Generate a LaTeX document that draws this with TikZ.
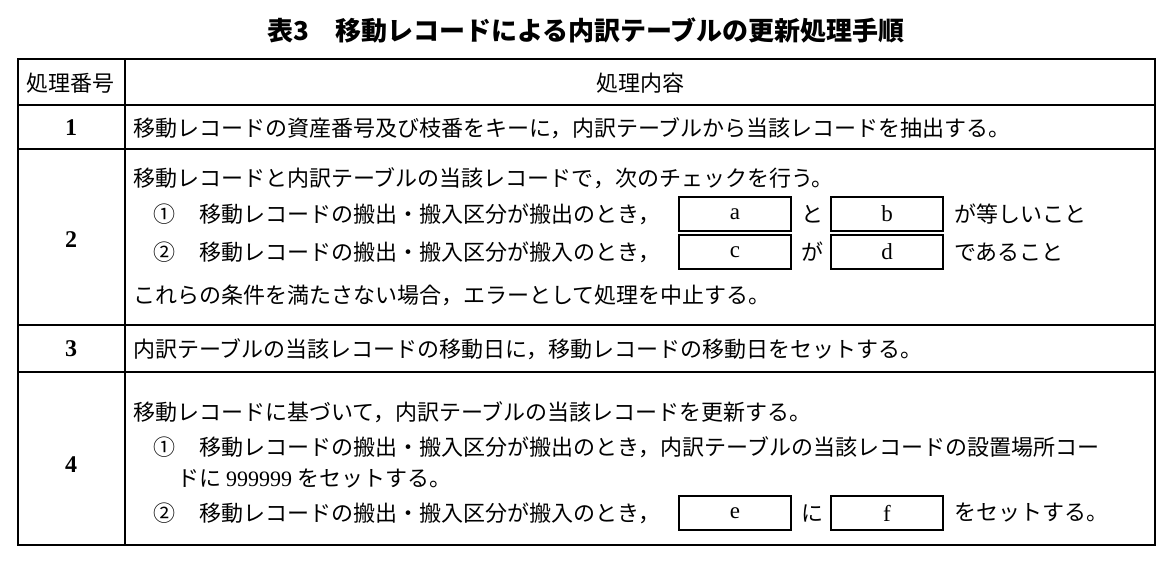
\documentclass[tikz,border=0pt]{standalone}
\usepackage{fontspec}
\setmainfont{Noto Sans CJK JP}
\newfontfamily\numfont{Liberation Serif}
\begin{document}
\begin{tikzpicture}[x=1pt,y=-1pt,
  txt/.style={anchor=west,inner sep=0pt,font=\fontsize{22}{26}\selectfont},
  num/.style={inner sep=0pt,font=\fontsize{24}{26}\selectfont\numfont\bfseries},
  hd/.style={inner sep=0pt,font=\fontsize{22}{26}\selectfont},
  blank/.style={draw,line width=2pt,minimum width=112pt,minimum height=34pt,inner sep=0pt,font=\fontsize{23}{26}\selectfont\numfont},
  rule/.style={line width=1.2pt}]
\useasboundingbox (0,0) rectangle (1172,563);
\node[inner sep=0pt,font=\fontsize{26}{30}\selectfont\bfseries] (title) at (586,30) {表3\quad 移動レコードによる内訳テーブルの更新処理手順};
% grid
\draw[line width=1.6pt] (18,59) rectangle (1155,545);
\draw[rule] (18,105) -- (1155,105);
\draw[rule] (18,149) -- (1155,149);
\draw[rule] (18,325) -- (1155,325);
\draw[rule] (18,372) -- (1155,372);
\draw[rule] (125,59) -- (125,545);
% header
\node[hd] (h1) at (71,83) {処理番号};
\node[hd] (h2) at (640,83) {処理内容};
% row 1
\node[num] (n1) at (71,128) {1};
\node[txt] (r1) at (133,128) {移動レコードの資産番号及び枝番をキーに，内訳テーブルから当該レコードを抽出する。};
% row 2
\node[num] (n2) at (71,240) {2};
\node[txt] (r2a) at (133,178) {移動レコードと内訳テーブルの当該レコードで，次のチェックを行う。};
\node[txt] (r2b) at (153,214) {①\hspace{1.1em}移動レコードの搬出・搬入区分が搬出のとき，};
\node[blank] (ba) at (735,214) {a};
\node[txt] (r2b2) at (801,214) {と};
\node[blank] (bb) at (887,214) {b};
\node[txt] (r2b3) at (954,214) {が等しいこと};
\node[txt] (r2c) at (153,252) {②\hspace{1.1em}移動レコードの搬出・搬入区分が搬入のとき，};
\node[blank] (bc) at (735,252) {c};
\node[txt] (r2c2) at (801,252) {が};
\node[blank] (bd) at (887,252) {d};
\node[txt] (r2c3) at (954,252) {であること};
\node[txt] (r2d) at (133,295) {これらの条件を満たさない場合，エラーとして処理を中止する。};
% row 3
\node[num] (n3) at (71,349) {3};
\node[txt] (r3) at (133,349) {内訳テーブルの当該レコードの移動日に，移動レコードの移動日をセットする。};
% row 4
\node[num] (n4) at (71,465) {4};
\node[txt] (r4a) at (133,412) {移動レコードに基づいて，内訳テーブルの当該レコードを更新する。};
\node[txt] (r4b) at (153,447) {①\hspace{1.1em}移動レコードの搬出・搬入区分が搬出のとき，内訳テーブルの当該レコードの設置場所コー};
\node[txt] (r4c) at (177,479) {ドに {\numfont 999999} をセットする。};
\node[txt] (r4d) at (153,513) {②\hspace{1.1em}移動レコードの搬出・搬入区分が搬入のとき，};
\node[blank] (be) at (735,513) {e};
\node[txt] (r4d2) at (801,513) {に};
\node[blank] (bf) at (887,513) {f};
\node[txt] (r4d3) at (954,513) {をセットする。};
\end{tikzpicture}
\end{document}
